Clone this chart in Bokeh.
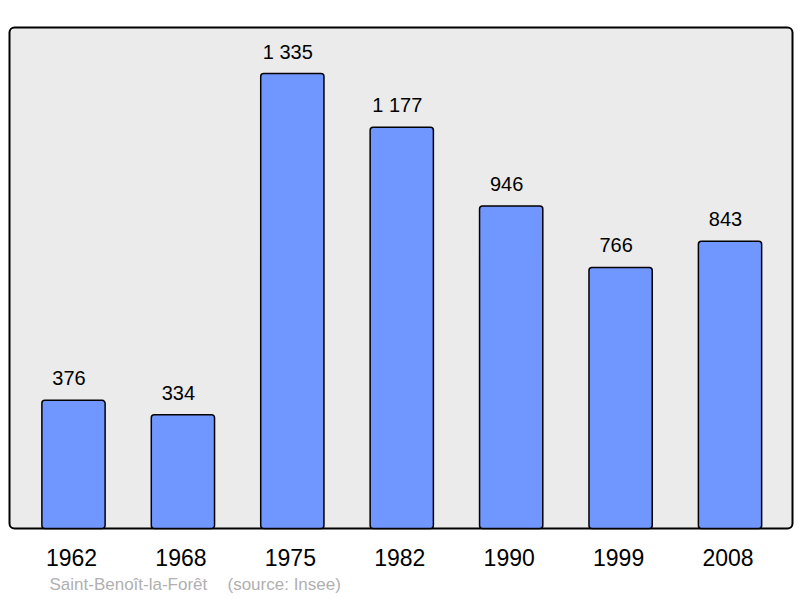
from bokeh.plotting import figure
from bokeh.models import ColumnDataSource, Label, Range1d, BoxAnnotation
from bokeh.core.properties import value
from bokeh.embed import file_html
from bokeh.resources import INLINE

years = ["1962", "1968", "1975", "1982", "1990", "1999", "2008"]
population = [376, 334, 1335, 1177, 946, 766, 843]
value_labels = ["376", "334", "1 335", "1 177", "946", "766", "843"]
place = "Saint-Benoît-la-Forêt"
source_text = "(source: Insee)"

xs = list(range(len(years)))
src = ColumnDataSource(dict(x=xs, pop=population, lab=value_labels, year=years,
                            zero=[0] * len(years)))

FONT = "Liberation Sans"
W, H = 800, 598
STEP = 109.42          # px per category
X0 = 73.0              # px of first category centre
Y0 = 528.0             # px of value zero
YMAX = 1470.0          # value at top of panel
PXV = (Y0 - 27.0) / YMAX

p = figure(width=W, height=H, output_backend="svg", toolbar_location=None,
           x_range=Range1d(-X0 / STEP, (W - X0) / STEP),
           y_range=Range1d(-(H - Y0) / PXV, Y0 / PXV),
           min_border=0, min_border_left=0, min_border_right=0,
           min_border_top=0, min_border_bottom=0)
p.axis.visible = False
p.grid.visible = False
p.outline_line_color = None
p.background_fill_color = "white"
p.border_fill_color = "white"

panel = BoxAnnotation(left=-(X0 - 9) / STEP, right=(792 - X0) / STEP, bottom=0, top=YMAX,
                      fill_color="#ebebeb", fill_alpha=1.0, line_color="black",
                      line_width=2, line_alpha=1.0, border_radius=5, level="underlay")
p.add_layout(panel)

p.vbar(x="x", top="pop", bottom=0, width=0.578, source=src,
       fill_color="#7096ff", line_color="black", line_width=1.5, border_radius=3)

p.text(x="x", y="pop", text="lab", source=src, text_align="center",
       text_baseline="middle", x_offset=-4.5, y_offset=-22, text_font=value(FONT),
       text_font_size="20px", text_color="black")

p.text(x="x", y="zero", text="year", source=src, text_align="center",
       text_baseline="middle", x_offset=-2, y_offset=29, text_font=value(FONT),
       text_font_size="23px", text_color="black")

p.add_layout(Label(x=49, y=H - 584, x_units="screen", y_units="screen",
                   text=place, text_font=FONT, text_font_size="17px",
                   text_color="#b0b0b0", text_baseline="middle"))
p.add_layout(Label(x=227, y=H - 584, x_units="screen", y_units="screen",
                   text=source_text, text_font=FONT, text_font_size="17px",
                   text_color="#b0b0b0", text_baseline="middle"))

open("out.html", "w").write(file_html(p, INLINE))
